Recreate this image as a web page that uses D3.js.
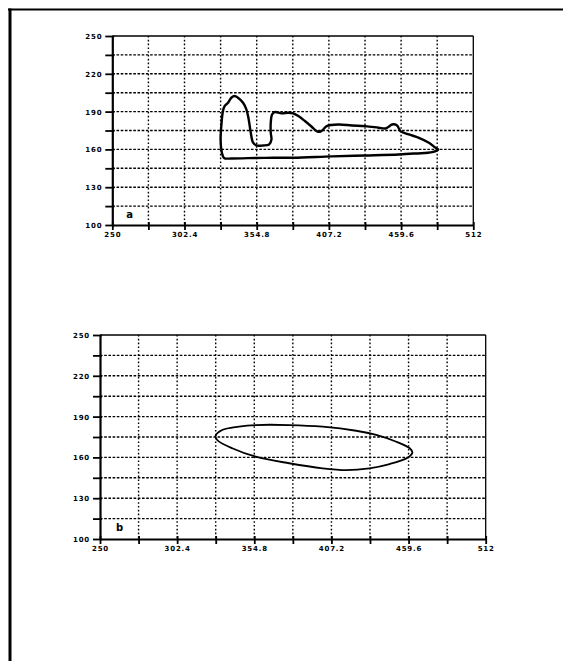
<!DOCTYPE html>
<html>
<head>
<meta charset="utf-8">
<script src="https://cdn.jsdelivr.net/npm/d3@7"></script>
<style>
  html, body { margin: 0; padding: 0; background: #fff; }
  svg { display: block; }
  .lbl { font-family: "DejaVu Sans", sans-serif; font-weight: bold; font-size: 7px; letter-spacing: 0.8px; fill: #000; }
</style>
</head>
<body>
<svg id="chart" width="563" height="661"></svg>
<script>
// Axis domains, grid steps and labelled ticks
const xGrid = [250, 276.2, 302.4, 328.6, 354.8, 381, 407.2, 433.4, 459.6, 485.8, 512];
const yGrid = [100, 115, 130, 145, 160, 175, 190, 205, 220, 235, 250];
const xLabels = [250, 302.4, 354.8, 407.2, 459.6, 512];
const yLabels = [100, 130, 160, 190, 220, 250];

// Panel a: closed outline (x, y)
const outlineA_x = [330.3, 329.1, 328.6, 329.1, 330.3, 331.5, 334.0, 336.4, 338.8, 341.2, 344.9, 347.3, 349.0, 350.5, 352.2, 354.6, 359.5, 363.8, 365.5, 365.0, 365.0, 366.0, 367.9, 372.8, 377.7, 381.3, 385.0, 389.8, 394.7, 398.3, 400.8, 403.2, 405.6, 414.1, 423.9, 433.6, 443.3, 448.2, 450.6, 453.1, 456.7, 459.1, 465.2, 472.5, 479.8, 484.6, 486.6, 482.2, 470.1, 457.9, 433.6, 409.3, 381.0, 360.7, 336.4, 331.5];
const outlineA_y = [154.6, 160.0, 167.9, 178.5, 190.4, 194.4, 197.0, 201.0, 202.4, 201.0, 197.0, 191.8, 183.8, 173.2, 165.3, 163.1, 163.1, 163.9, 167.9, 173.2, 181.2, 187.8, 189.6, 188.6, 189.1, 188.6, 186.5, 182.5, 178.0, 174.5, 174.0, 175.9, 178.5, 179.8, 179.0, 178.5, 177.2, 176.6, 178.0, 179.8, 179.0, 174.5, 171.9, 169.2, 165.3, 161.3, 160.0, 157.8, 156.8, 156.0, 155.2, 154.5, 153.4, 153.3, 152.8, 152.9];

// Panel b: closed outline (x, y)
const outlineB_x = [328.5, 333.0, 344.4, 355.8, 378.5, 401.2, 424.0, 437.6, 451.3, 460.4, 462.2, 459.2, 446.7, 433.0, 417.2, 401.2, 378.5, 355.8, 339.8, 329.6];
const outlineB_y = [175.7, 180.1, 182.6, 183.8, 183.8, 182.6, 179.6, 176.5, 171.5, 166.7, 163.5, 160.0, 155.1, 152.0, 150.7, 152.0, 155.7, 160.5, 166.7, 172.8];

const svg = d3.select("#chart");

// Page frame
svg.append("line").attr("x1", 8).attr("x2", 563).attr("y1", 9.5).attr("y2", 9.5)
  .attr("stroke", "#000").attr("stroke-width", 2);
svg.append("line").attr("x1", 10).attr("x2", 10).attr("y1", 8.5).attr("y2", 661)
  .attr("stroke", "#000").attr("stroke-width", 3);

function panel(box, xs, ys, tag, tagPos, lineW) {
  const x = d3.scaleLinear().domain([250, 512]).range([box.left, box.right]);
  const y = d3.scaleLinear().domain([100, 250]).range([box.bottom, box.top]);
  const g = svg.append("g");

  // dotted grid
  g.selectAll(".gx").data(xGrid.slice(1, -1)).join("line")
    .attr("x1", d => x(d)).attr("x2", d => x(d))
    .attr("y1", box.top).attr("y2", box.bottom)
    .attr("stroke", "#000").attr("stroke-width", 1.4).attr("stroke-dasharray", "1.6,2.2");
  g.selectAll(".gy").data(yGrid.slice(1, -1)).join("line")
    .attr("x1", box.left).attr("x2", box.right)
    .attr("y1", d => y(d)).attr("y2", d => y(d))
    .attr("stroke", "#000").attr("stroke-width", 1.4).attr("stroke-dasharray", "2.6,1.6");

  // frame: top and right edges
  g.append("line").attr("x1", box.left).attr("x2", box.right)
    .attr("y1", box.top).attr("y2", box.top).attr("stroke", "#000").attr("stroke-width", 1.3);
  g.append("line").attr("x1", box.right).attr("x2", box.right)
    .attr("y1", box.top).attr("y2", box.bottom).attr("stroke", "#000").attr("stroke-width", 1.3);

  // axes
  const fmt = d => (xLabels.includes(d) ? String(d) : "");
  const ax = g.append("g").attr("transform", `translate(0,${box.bottom})`)
    .call(d3.axisBottom(x).tickValues(xGrid).tickSize(5).tickSizeOuter(0).tickFormat(fmt));
  ax.select(".domain").attr("stroke-width", 2.2);
  ax.selectAll(".tick line").attr("stroke-width", 1.8).attr("y1", -3);
  ax.selectAll(".tick text").attr("class", "lbl").attr("dy", "0.2em").attr("y", 11);

  const fmtY = d => (yLabels.includes(d) ? String(d) : "");
  const ay = g.append("g").attr("transform", `translate(${box.left},0)`)
    .call(d3.axisLeft(y).tickValues(yGrid).tickSize(7).tickSizeOuter(0).tickFormat(fmtY));
  ay.select(".domain").attr("stroke-width", 2.2);
  ay.selectAll(".tick line").attr("stroke-width", 1.8).attr("x2", -7).attr("x1", 2);
  ay.selectAll(".tick text").attr("class", "lbl").attr("x", -10).attr("dy", "0.35em");

  // outline
  const pts = xs.map((v, i) => [v, ys[i]]);
  g.append("path").datum(pts)
    .attr("d", d3.line().x(d => x(d[0])).y(d => y(d[1])).curve(d3.curveCatmullRomClosed.alpha(0.5)))
    .attr("fill", "none").attr("stroke", "#000").attr("stroke-width", lineW)
    .attr("stroke-linejoin", "round");

  g.append("text").attr("class", "lbl").style("font-size", "10px")
    .attr("x", box.left + tagPos[0]).attr("y", box.bottom - tagPos[1]).text(tag);
}

panel({ left: 112.3, right: 473.3, top: 36, bottom: 225 }, outlineA_x, outlineA_y, "a", [14, 7], 2.4);
panel({ left: 100, right: 485.7, top: 335, bottom: 539 }, outlineB_x, outlineB_y, "b", [16, 8], 1.8);
</script>
</body>
</html>
